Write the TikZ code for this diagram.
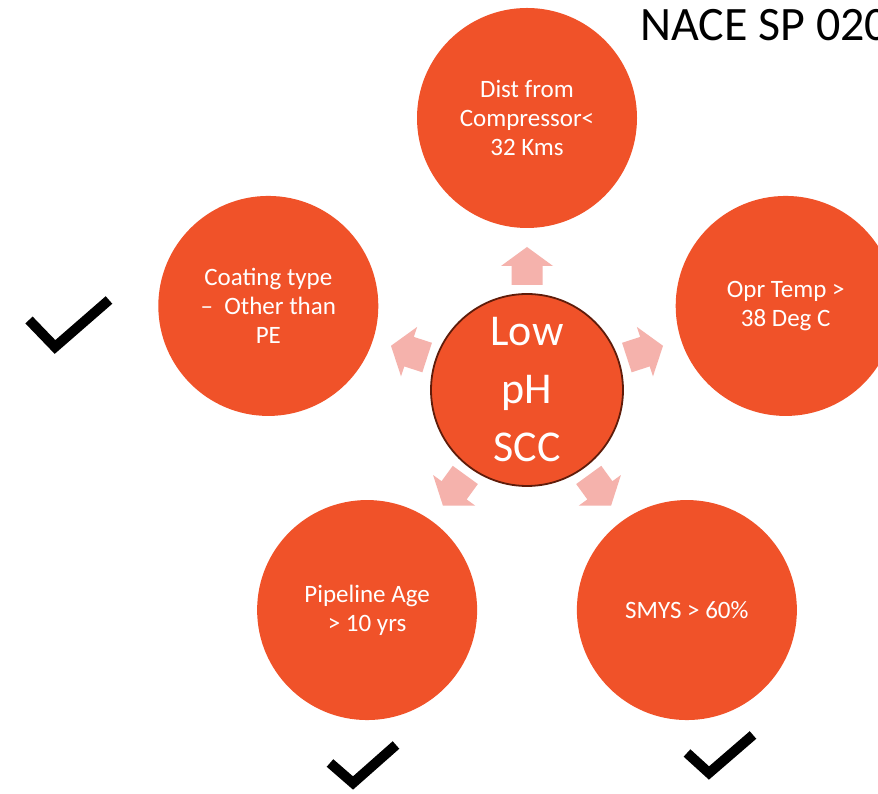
\documentclass[tikz,border=0pt]{standalone}
\usepackage{fontspec}
\setmainfont{Carlito}
\definecolor{orangec}{RGB}{240,82,41}
\definecolor{pinkc}{RGB}{245,178,172}
\definecolor{rimc}{RGB}{95,28,10}
\begin{document}
\begin{tikzpicture}[x=1pt,y=1pt,
  outer/.style={circle,fill=orangec,minimum size=220pt,inner sep=0pt,text=white,align=center,
    font=\fontsize{25}{29}\selectfont},
  hub/.style={circle,fill=orangec,draw=rimc,line width=1.8pt,minimum size=192pt,inner sep=0pt,text=white,align=center,
    font=\fontsize{44}{58}\selectfont},
  blockarrow/.style={fill=pinkc},
  tick/.style={draw=black,line width=10pt,miter limit=10}]
\useasboundingbox (0,0) rectangle (878,794);
\clip (0,0) rectangle (878,794);
\fill[white] (0,0) rectangle (878,794);
\node[hub] (c) at (527,404) {Low\\pH\\SCC};
\node[outer] (top) at ([shift={(90:272pt)}]c.center) {Dist from\\Compressor<\\32 Kms};
\node[outer] (left) at ([shift={(162:272pt)}]c.center) {Coating type\\–\ \ Other than\\PE};
\node[outer] (right) at ([shift={(18:272pt)}]c.center) {Opr Temp >\\38 Deg C};
\node[outer] (bl) at ([shift={(234:272pt)}]c.center) {Pipeline Age\\> 10 yrs};
\node[outer] (br) at ([shift={(306:272pt)}]c.center) {SMYS > 60\%};
\foreach \a in {90,162,18,234,306}{
  \begin{scope}[shift={(c.center)},rotate=\a]
    \fill[blockarrow] (105,-15.5) -- (124,-15.5) -- (124,-26) -- (143,0) -- (124,26) -- (124,15.5) -- (105,15.5) -- cycle;
  \end{scope}
}
\node[anchor=base west,font=\fontsize{48}{56}\selectfont,inner sep=0pt] (title) at (640,753) {NACE SP 020};
\coordinate (t1a) at (29,474); \coordinate (t1b) at (55,447); \coordinate (t1c) at (109,494);
\coordinate (t2a) at (330,31); \coordinate (t2b) at (353,11); \coordinate (t2c) at (396,49);
\coordinate (t3a) at (687,41); \coordinate (t3b) at (709,21); \coordinate (t3c) at (753,59);
\draw[tick] (t1a) -- (t1b) -- (t1c);
\draw[tick] (t2a) -- (t2b) -- (t2c);
\draw[tick] (t3a) -- (t3b) -- (t3c);
\end{tikzpicture}
\end{document}
